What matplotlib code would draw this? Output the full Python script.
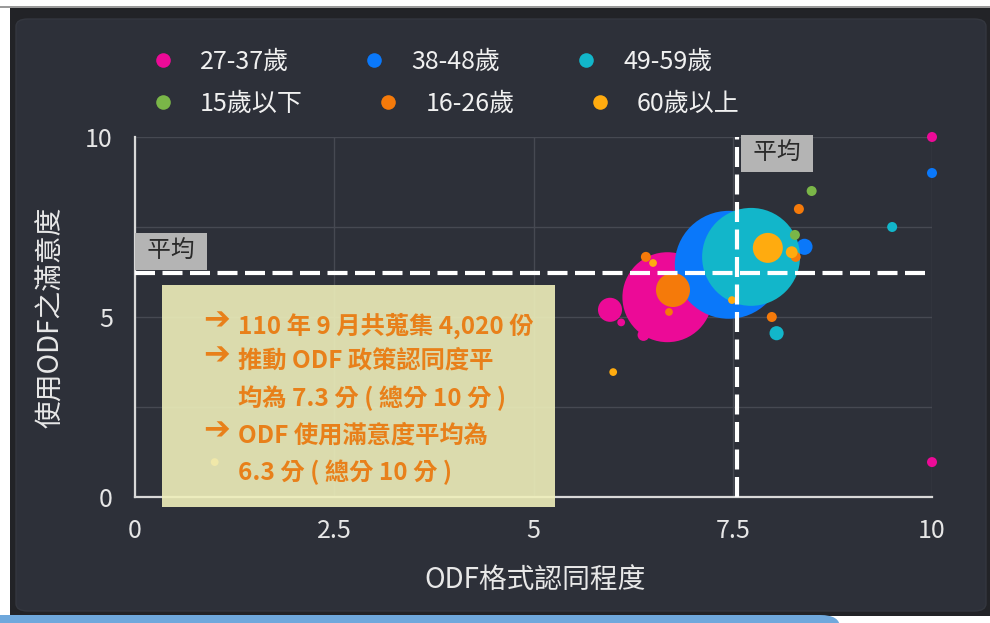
import matplotlib.pyplot as plt
from matplotlib.lines import Line2D
from matplotlib.patches import FancyBboxPatch, Rectangle

plt.rcParams['font.family'] = ['Noto Sans CJK TC', 'DejaVu Sans']

# age groups, in drawing order
groups = ['27-37歲', '38-48歲', '49-59歲', '15歲以下', '16-26歲', '60歲以上']
colors = ['#ec0a97', '#0a78fa', '#12b6ca', '#7ab648', '#f57a0a', '#ffab0f']

# x = ODF格式認同程度, y = 使用ODF之滿意度, n = respondents (bubble size)
pink_x = [6.68, 5.96, 6.10, 6.38, 10.0, 10.0]
pink_y = [5.55, 5.20, 4.85, 4.50, 10.0, 0.97]
pink_n = [810, 58, 6, 14, 10, 10]

blue_x = [7.45, 8.40, 10.0]
blue_y = [6.45, 6.95, 9.00]
blue_n = [1166, 26, 10]

cyan_x = [7.73, 9.50, 8.05]
cyan_y = [6.67, 7.50, 4.55]
cyan_n = [960, 10, 20]

green_x = [8.49, 8.28]
green_y = [8.50, 7.28]
green_n = [10, 10]

orange_x = [6.75, 6.70, 6.41, 8.33, 8.29, 7.99]
orange_y = [5.75, 5.14, 6.67, 8.00, 6.67, 5.00]
orange_n = [116, 6, 10, 10, 10, 10]

yellow_x = [7.94, 6.50, 7.49, 8.24, 6.00, 1.00]
yellow_y = [6.92, 6.50, 5.47, 6.80, 3.47, 0.97]
yellow_n = [90, 6, 6, 14, 6, 6]

series = [(pink_x, pink_y, pink_n), (blue_x, blue_y, blue_n),
          (cyan_x, cyan_y, cyan_n), (green_x, green_y, green_n),
          (orange_x, orange_y, orange_n), (yellow_x, yellow_y, yellow_n)]

mean_x = 7.55
mean_y = 6.22

notes = ['110 年 9 月共蒐集 4,020 份',
         '推動 ODF 政策認同度平',
         '均為 7.3 分 ( 總分 10 分 )',
         'ODF 使用滿意度平均為',
         '6.3 分 ( 總分 10 分 )']
note_arrow = [True, True, False, True, False]

W, H = 990, 623
fig = plt.figure(figsize=(W / 100, H / 100), dpi=100, facecolor='white')

def fx(px):
    return px / W

def fy(py):
    return 1 - py / H

# frame / panel background
fig.add_artist(Rectangle((0, fy(8)), 1, fy(6) - fy(8), transform=fig.transFigure,
                         fc='#9a9a9a', ec='none', zorder=-12))
fig.add_artist(Rectangle((fx(10), fy(616)), fx(980), fy(8) - fy(616),
                         transform=fig.transFigure, fc='#222327', ec='none', zorder=-11))
fig.add_artist(FancyBboxPatch((fx(16), fy(611)), fx(970), fy(19) - fy(611),
                              boxstyle='round,pad=0,rounding_size=0.012',
                              transform=fig.transFigure, fc='#2d3039', ec='#34373f',
                              lw=1, zorder=-10))
fig.add_artist(FancyBboxPatch((fx(-20), fy(640)), fx(860), fy(615) - fy(640),
                              boxstyle='round,pad=0,rounding_size=0.02',
                              transform=fig.transFigure, fc='#6fa8dc', ec='none',
                              zorder=-9, clip_on=False))

ax = fig.add_axes([fx(135), fy(497), fx(932) - fx(135), fy(137) - fy(497)])
ax.set_facecolor('none')

for (xs, ys, ns), c in zip(series, colors):
    ax.scatter(xs, ys, s=[n * 5.18 for n in ns], color=c, edgecolors='none',
               clip_on=False, zorder=3)

ax.set_xlim(0, 10)
ax.set_ylim(0, 10)
ax.set_xticks([0, 2.5, 5, 7.5, 10])
ax.set_xticklabels(['0', '2.5', '5', '7.5', '10'])
ax.set_yticks([0, 5, 10])
ax.set_yticks([2.5, 7.5], minor=True)
ax.tick_params(which='both', length=0, colors='#e6e6e6', labelsize=18)
ax.tick_params(axis='x', pad=15)
ax.tick_params(axis='y', pad=16)
ax.grid(True, which='both', color='#464952', lw=1, zorder=0)
for side in ['top', 'right']:
    ax.spines[side].set_visible(False)
for side in ['left', 'bottom']:
    ax.spines[side].set_color('#d8d8d8')
    ax.spines[side].set_linewidth(1.6)
    ax.spines[side].set_zorder(2)

ax.axhline(mean_y, color='white', lw=3, dashes=(4.8, 1.8), zorder=4)
ax.axvline(mean_x, color='white', lw=3, dashes=(4.8, 1.8), zorder=4)

box = dict(boxstyle='square,pad=0.3', fc='#b4b4b4', ec='none')
ax.annotate(' 平均 ', xy=(0, mean_y), xytext=(5, 7), textcoords='offset points',
            ha='left', va='bottom', fontsize=17, color='#2a2a2a', bbox=box, zorder=5)
ax.annotate(' 平均 ', xy=(mean_x, 10), xytext=(8, -3.5), textcoords='offset points',
            ha='left', va='top', fontsize=17, color='#2a2a2a', bbox=box, zorder=5)

ax.set_xlabel('ODF格式認同程度', fontsize=20, color='#e8e8e8', style='italic')
ax.set_ylabel('使用ODF之滿意度', fontsize=20, color='#e8e8e8', style='italic')
ax.xaxis.set_label_coords(0.502, -0.19)
ax.yaxis.set_label_coords(-0.086, 0.5)

# legend, two flowing rows
def legend_row(idx, ypx):
    handles = [Line2D([], [], ls='none', marker='o', markersize=10.5,
                      markerfacecolor=colors[i], markeredgecolor='none') for i in idx]
    lg = fig.legend(handles, [groups[i] for i in idx], ncol=3, frameon=False,
                    loc='center left', bbox_to_anchor=(fx(150), fy(ypx)),
                    borderpad=0, borderaxespad=0, handlelength=1.0,
                    handletextpad=1.0, columnspacing=2.9, fontsize=18,
                    labelcolor='#f0f0f0')
    return lg

legend_row([0, 1, 2], 62)
legend_row([3, 4, 5], 104)

# note overlay
fig.add_artist(Rectangle((fx(162), fy(507)), fx(555) - fx(162), fy(285) - fy(507),
                         transform=fig.transFigure, fc='#efefbb', ec='none',
                         alpha=0.9, zorder=5))
line_y = [326, 361, 398, 436, 472]
for txt, arr, ypx in zip(notes, note_arrow, line_y):
    if arr:
        fig.text(fx(203), fy(ypx - 5), '➔', family='DejaVu Sans', fontsize=23,
                 fontweight='bold', color='#e8801a', ha='left', va='center', zorder=6)
    fig.text(fx(238), fy(ypx), txt, fontsize=17.5, fontweight='bold',
             color='#e8801a', ha='left', va='center', zorder=6)

fig.savefig('out.png', dpi=100)
